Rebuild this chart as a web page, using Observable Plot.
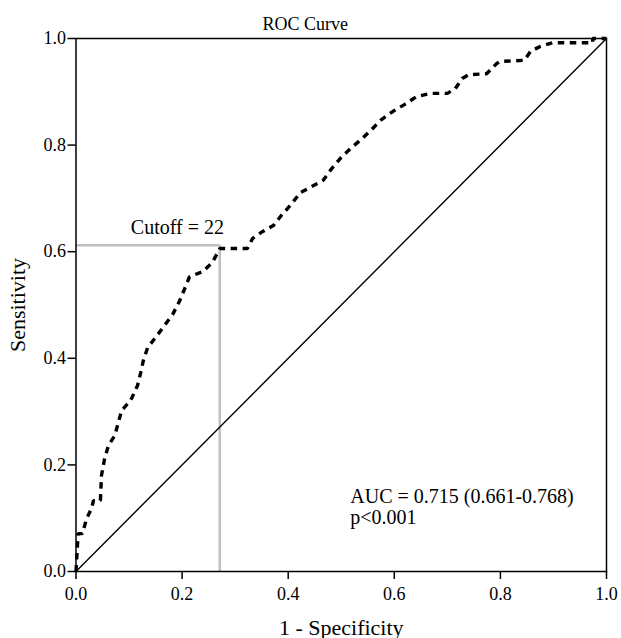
<!DOCTYPE html>
<html><head><meta charset="utf-8">
<script src="https://cdn.jsdelivr.net/npm/d3@7"></script>
<script src="https://cdn.jsdelivr.net/npm/@observablehq/plot@0.6"></script>
<style>body{margin:0;background:#fff}</style>
</head><body><div id="chart"></div>
<script>
// ROC curve points (1 - specificity, sensitivity)
const fpr = [0, 0.004, 0.012, 0.020, 0.029, 0.033, 0.046, 0.048, 0.054, 0.061, 0.073, 0.080, 0.086, 0.103, 0.116, 0.122, 0.127, 0.135, 0.150, 0.167, 0.182, 0.195, 0.205, 0.214, 0.240, 0.257, 0.269, 0.271, 0.323, 0.333, 0.352, 0.372, 0.387, 0.404, 0.423, 0.444, 0.466, 0.482, 0.500, 0.519, 0.538, 0.557, 0.576, 0.597, 0.619, 0.642, 0.668, 0.700, 0.715, 0.728, 0.740, 0.774, 0.793, 0.800, 0.845, 0.857, 0.875, 0.898, 0.974, 0.974, 1.0];
const tpr = [0, 0.071, 0.071, 0.099, 0.118, 0.133, 0.133, 0.180, 0.212, 0.236, 0.255, 0.280, 0.302, 0.321, 0.349, 0.373, 0.396, 0.420, 0.439, 0.462, 0.482, 0.507, 0.531, 0.553, 0.563, 0.580, 0.602, 0.606, 0.606, 0.625, 0.638, 0.649, 0.668, 0.687, 0.711, 0.722, 0.734, 0.756, 0.777, 0.795, 0.811, 0.829, 0.848, 0.863, 0.876, 0.891, 0.897, 0.897, 0.906, 0.925, 0.932, 0.934, 0.953, 0.957, 0.959, 0.976, 0.985, 0.992, 0.992, 1.0, 1.0];
const refX = [0, 1];
const refY = [0, 1];
const tickValues = [0, 0.2, 0.4, 0.6, 0.8, 1.0];
const cutoffX = 0.271;
const cutoffY = 0.612;
const cutoffLabel = "Cutoff = 22";
const aucLines = ["AUC = 0.715 (0.661-0.768)", "p<0.001"];
const titleText = "ROC Curve";
const xLabel = "1 - Specificity";
const yLabel = "Sensitivity";

const curve = fpr.map((x, i) => ({x, y: tpr[i]}));
const diag = refX.map((x, i) => ({x, y: refY[i]}));

const chart = Plot.plot({
  width: 621,
  height: 638,
  marginLeft: 75.5,
  marginRight: 15,
  marginTop: 38,
  marginBottom: 67,
  style: {fontFamily: "'Liberation Serif', 'Times New Roman', serif", fontSize: "18px", color: "black", background: "white"},
  x: {domain: [0, 1]},
  y: {domain: [0, 1]},
  marks: [
    Plot.ruleY([cutoffY], {x1: 0, x2: cutoffX, stroke: "#c0c0c0", strokeWidth: 2.5}),
    Plot.ruleX([cutoffX], {y1: 0, y2: cutoffY, stroke: "#c0c0c0", strokeWidth: 2.5}),
    Plot.line(diag, {x: "x", y: "y", stroke: "black", strokeWidth: 1.4}),
    Plot.line(curve, {x: "x", y: "y", stroke: "black", strokeWidth: 3.4, strokeDasharray: "6.5,5.5", strokeLinecap: "butt", strokeLinejoin: "miter"}),
    Plot.frame({stroke: "black", strokeWidth: 1.5}),
    Plot.axisX({ticks: tickValues, tickFormat: d3.format(".1f"), tickSize: 8, tickPadding: 8, strokeWidth: 1.5, fontSize: 18,
      label: xLabel, labelAnchor: "center", labelArrow: "none", labelOffset: 63}),
    Plot.axisY({ticks: tickValues, tickFormat: d3.format(".1f"), tickSize: 8, tickPadding: 2, strokeWidth: 1.5, fontSize: 18,
      label: yLabel, labelAnchor: "center", labelArrow: "none", labelOffset: 67}),
    Plot.text([titleText], {frameAnchor: "top", text: d => d, dx: -36, dy: -21, fontSize: 18, fill: "black"}),
    Plot.text([cutoffLabel], {x: cutoffX * 0.705, y: cutoffY + 0.033, text: d => d, fontSize: 20, fill: "black"}),
    Plot.text([aucLines.join("\n")], {x: 0.517, y: 0.121, text: d => d, textAnchor: "start", lineHeight: 1.05, fontSize: 20, fill: "black"})
  ]
});
chart.querySelectorAll("[aria-label='x-axis label'] text, [aria-label='y-axis label'] text").forEach(t => t.setAttribute("font-size", "22"));
document.getElementById("chart").append(chart);
</script>
</body></html>
